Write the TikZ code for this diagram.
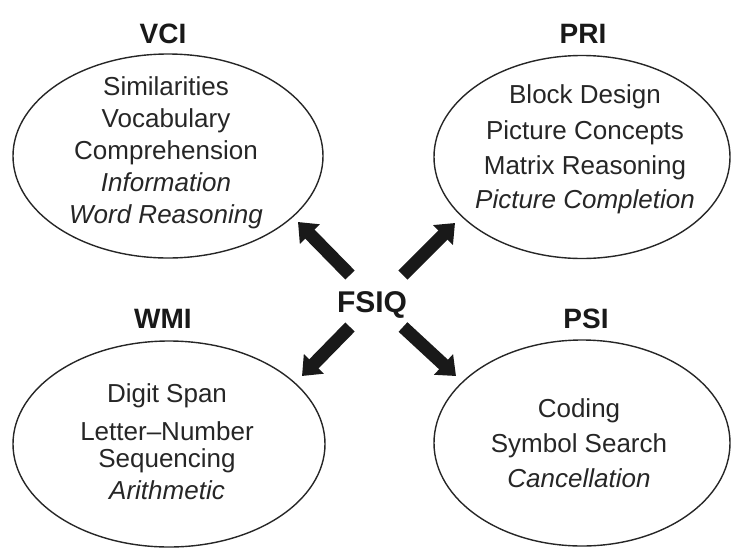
\documentclass[tikz,border=0pt]{standalone}
\usepackage{fontspec}
\setmainfont{Liberation Sans}
\usetikzlibrary{shapes.geometric,arrows.meta}
\begin{document}
\begin{tikzpicture}[x=1pt,y=-1pt,
  oval/.style={draw=black!85,line width=1.4pt,ellipse,inner sep=0pt},
  title/.style={font=\fontsize{28}{28}\selectfont\bfseries,text=black!90,anchor=base,inner sep=0pt},
  item/.style={font=\fontsize{26}{26}\selectfont,text=black!85,anchor=base,inner sep=0pt},
  ital/.style={item,font=\fontsize{26}{26}\selectfont\itshape},
  fat/.style={line width=13pt,black!90,-{Triangle[length=17pt,width=27pt]}}]
\useasboundingbox (0,0) rectangle (731,547);
% ellipses
\node[oval,minimum width=310pt,minimum height=204pt] (vcio) at (168,156) {};
\node[oval,minimum width=296pt,minimum height=203pt] (prio) at (582,157) {};
\node[oval,minimum width=312pt,minimum height=206pt] (wmio) at (169,444) {};
\node[oval,minimum width=296pt,minimum height=206pt] (psio) at (582,443) {};
% titles (base line positions)
\node[title] (vci) at (163,43) {VCI};
\node[title] (pri) at (583,43) {PRI};
\node[title] (wmi) at (163,328) {WMI};
\node[title] (psi) at (586,328) {PSI};
\node[title,font=\fontsize{30}{30}\selectfont\bfseries] (fsiq) at (372,312) {FSIQ};
% VCI items
\node[item] (v1) at (166,95) {Similarities};
\node[item] (v2) at (166,127) {Vocabulary};
\node[item] (v3) at (166,159) {Comprehension};
\node[ital] (v4) at (166,191) {Information};
\node[ital] (v5) at (166,223) {Word Reasoning};
% PRI items
\node[item] (p1) at (585,103) {Block Design};
\node[item] (p2) at (585,139) {Picture Concepts};
\node[item] (p3) at (585,174) {Matrix Reasoning};
\node[ital] (p4) at (585,208) {Picture Completion};
% WMI items
\node[item] (w1) at (167,402) {Digit Span};
\node[item] (w2) at (167,440) {Letter–Number};
\node[item] (w3) at (167,467) {Sequencing};
\node[ital] (w4) at (167,499) {Arithmetic};
% PSI items
\node[item] (s1) at (579,417) {Coding};
\node[item] (s2) at (579,452) {Symbol Search};
\node[ital] (s3) at (579,487) {Cancellation};
% arrows
\coordinate (a1) at (350,275); \coordinate (b1) at (298,222);
\coordinate (a2) at (403,275); \coordinate (b2) at (455,223);
\coordinate (a3) at (350,327); \coordinate (b3) at (302,376);
\coordinate (a4) at (403,327); \coordinate (b4) at (456,376);
\draw[fat] (a1) -- (b1);
\draw[fat] (a2) -- (b2);
\draw[fat] (a3) -- (b3);
\draw[fat] (a4) -- (b4);
\end{tikzpicture}
\end{document}
